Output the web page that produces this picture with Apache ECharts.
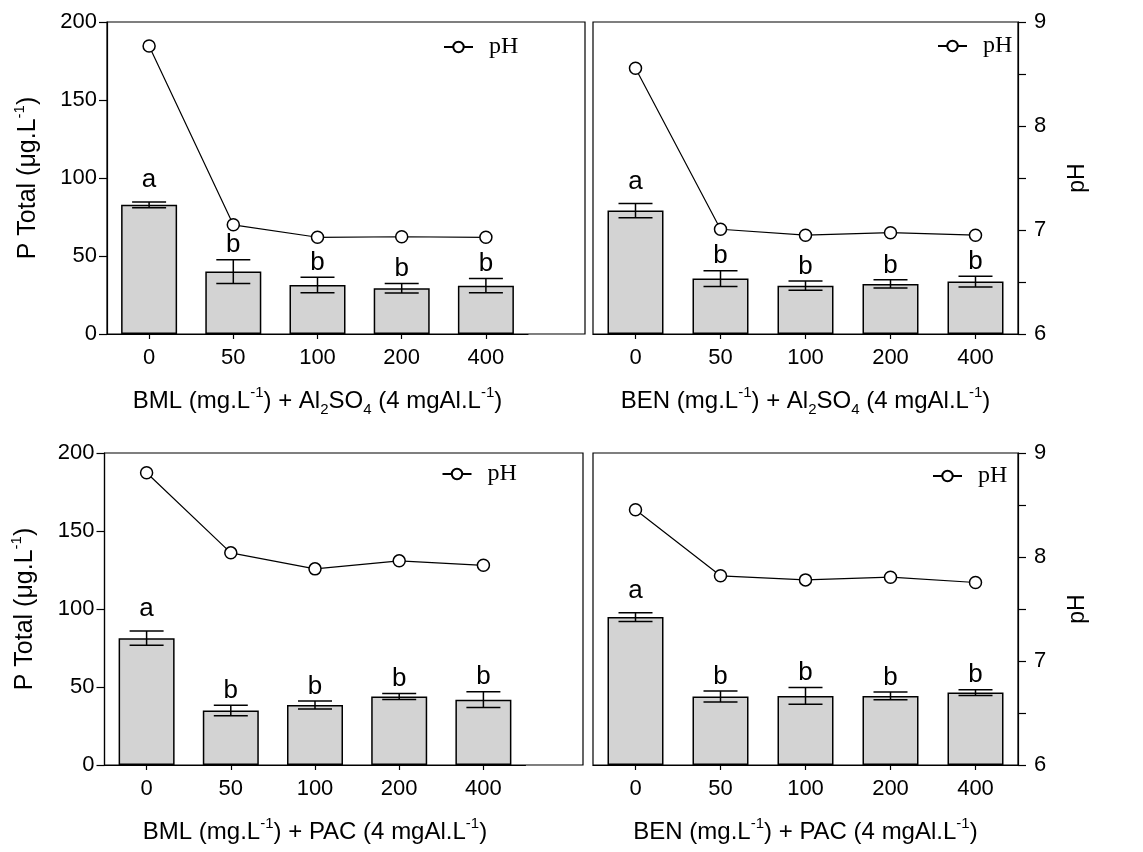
<!DOCTYPE html>
<html>
<head>
<meta charset="utf-8">
<script src="https://cdn.jsdelivr.net/npm/echarts@6/dist/echarts.min.js"></script>
<style>html,body{margin:0;padding:0;background:#fff}#c{width:1143px;height:852px}</style>
</head>
<body>
<div id="c"></div>
<script>
const categories = ['0', '50', '100', '200', '400'];
const pTicks = [0, 50, 100, 150, 200];
const phTicks = [6, 7, 8, 9];

const tlP = [82.8, 40.0, 31.4, 29.3, 31.0];
const tlErr = [1.8, 7.6, 5.0, 3.0, 4.6];
const tlPH = [8.77, 7.05, 6.93, 6.935, 6.93];
const tlLetters = ['a', 'b', 'b', 'b', 'b'];

const trP = [79.1, 35.5, 31.0, 32.1, 33.6];
const trErr = [4.6, 5.1, 2.9, 2.6, 3.4];
const trPH = [8.555, 7.007, 6.95, 6.974, 6.95];
const trLetters = ['a', 'b', 'b', 'b', 'b'];

const blP = [81.3, 34.9, 38.5, 43.9, 41.9];
const blErr = [4.6, 3.4, 2.6, 1.9, 5.1];
const blPH = [8.81, 8.04, 7.886, 7.963, 7.92];
const blLetters = ['a', 'b', 'b', 'b', 'b'];

const brP = [94.8, 43.9, 44.3, 44.3, 46.4];
const brErr = [2.8, 3.5, 5.3, 2.5, 1.8];
const brPH = [8.454, 7.819, 7.78, 7.806, 7.755];
const brLetters = ['a', 'b', 'b', 'b', 'b'];

const titles = [
  ['BML (mg.L', 'Al', 'SO', ' (4 mgAl.L'],
  ['BEN (mg.L', 'Al', 'SO', ' (4 mgAl.L'],
  ['BML (mg.L', 'PAC (4 mgAl.L'],
  ['BEN (mg.L', 'PAC (4 mgAl.L']
];

const SANS = 'Liberation Sans, Arial, sans-serif';
const SERIF = 'Liberation Serif, Times New Roman, serif';

const richX = {
  t: { fontSize: 24, fontFamily: SANS, color: '#000', lineHeight: 32 },
  sup: { fontSize: 15, fontFamily: SANS, color: '#000', verticalAlign: 'top', lineHeight: 20 },
  sub: { fontSize: 15, fontFamily: SANS, color: '#000', verticalAlign: 'bottom', lineHeight: 20 }
};
const richY = {
  t: { fontSize: 25, fontFamily: SANS, color: '#000', lineHeight: 32 },
  sup: { fontSize: 15, fontFamily: SANS, color: '#000', verticalAlign: 'top', lineHeight: 20 }
};

function alTitle(t) {
  return '{t|' + t[0] + '}{sup|-1}{t|) + ' + t[1] + '}{sub|2}{t|' + t[2] + '}{sub|4}{t|' + t[3] + '}{sup|-1}{t|)}';
}
function pacTitle(t) {
  return '{t|' + t[0] + '}{sup|-1}{t|) + ' + t[1] + '}{sup|-1}{t|)}';
}

const panels = [
  { box: { left: 107, top: 22, width: 478, height: 312 }, data: { left: 107, top: 22, width: 421, height: 312 },
    p: tlP, err: tlErr, ph: tlPH, letters: tlLetters, name: alTitle(titles[0]), leftAxis: true, legend: { left: 443, top: 35 } },
  { box: { left: 593, top: 22, width: 425, height: 312 }, data: { left: 593, top: 22, width: 425, height: 312 },
    p: trP, err: trErr, ph: trPH, letters: trLetters, name: alTitle(titles[1]), leftAxis: false, legend: { left: 937, top: 34 } },
  { box: { left: 104.5, top: 453, width: 478.5, height: 312 }, data: { left: 104.5, top: 453, width: 421, height: 312 },
    p: blP, err: blErr, ph: blPH, letters: blLetters, name: pacTitle(titles[2]), leftAxis: true, legend: { left: 441.5, top: 462 } },
  { box: { left: 593, top: 453, width: 425, height: 312 }, data: { left: 593, top: 453, width: 425, height: 312 },
    p: brP, err: brErr, ph: brPH, letters: brLetters, name: pacTitle(titles[3]), leftAxis: false, legend: { left: 932, top: 464 } }
];

const letterLift = { a: 22, b: 14.5 };

const grid = [], xAxis = [], yAxis = [], series = [], legend = [];

panels.forEach((pn, i) => {
  grid.push(Object.assign({ show: true, borderColor: '#000', borderWidth: 1.2, backgroundColor: 'transparent' }, pn.box));
  xAxis.push({ gridIndex: i, type: 'value', show: false, min: 0, max: 1 });
  yAxis.push({ gridIndex: i, type: 'value', show: false, min: 0, max: 1 });
});

panels.forEach((pn, i) => {
  const g = 4 + i;
  grid.push(Object.assign({ show: false }, pn.data));
  xAxis.push({
    gridIndex: g, type: 'category', data: categories,
    axisLine: { show: true, lineStyle: { color: '#000', width: 1.2 } },
    axisTick: { show: true, alignWithLabel: true, length: 5, lineStyle: { color: '#000', width: 1.2 } },
    axisLabel: { color: '#000', fontSize: 22, fontFamily: SANS, margin: 13 },
    splitLine: { show: false },
    name: pn.name, nameLocation: 'middle', nameGap: 51,
    nameTextStyle: { rich: richX }
  });
  const pAxisIndex = yAxis.length;
  yAxis.push({
    gridIndex: g, type: 'value', position: 'left', min: pTicks[0], max: pTicks[pTicks.length - 1], interval: 50,
    show: pn.leftAxis,
    axisLine: { show: true, lineStyle: { color: '#000', width: 1.2 } },
    axisTick: { show: true, length: 8, lineStyle: { color: '#000', width: 1.2 } },
    axisLabel: { color: '#000', fontSize: 22, fontFamily: SANS, margin: 10 },
    splitLine: { show: false },
    name: '{t|P Total (μg.L}{sup|-1}{t|)}', nameLocation: 'middle', nameGap: 63,
    nameTextStyle: { rich: richY }
  });
  const phAxisIndex = yAxis.length;
  yAxis.push({
    gridIndex: g, type: 'value', position: 'right', min: phTicks[0], max: phTicks[phTicks.length - 1], interval: 1,
    show: !pn.leftAxis,
    axisLine: { show: true, lineStyle: { color: '#000', width: 1.2 } },
    axisTick: { show: true, length: 8, lineStyle: { color: '#000', width: 1.2 } },
    minorTick: { show: true, splitNumber: 2, length: 8, lineStyle: { color: '#000', width: 1.2 } },
    axisLabel: { color: '#000', fontSize: 22, fontFamily: SANS, margin: 16 },
    splitLine: { show: false }, minorSplitLine: { show: false },
    name: 'pH', nameLocation: 'middle', nameGap: 48,
    nameTextStyle: { color: '#000', fontSize: 23, fontFamily: SANS }
  });

  series.push({
    type: 'bar', xAxisIndex: g, yAxisIndex: pAxisIndex, data: pn.p, barWidth: 56,
    itemStyle: { color: '#d3d3d3', borderColor: '#000', borderWidth: 1.5 },
    silent: true, z: 2
  });
  const letters = pn.letters;
  series.push({
    type: 'custom', xAxisIndex: g, yAxisIndex: pAxisIndex, z: 3, silent: true,
    data: pn.p.map((v, k) => [k, v, pn.err[k]]),
    renderItem: function (params, api) {
      const x = api.value(0), m = api.value(1), e = api.value(2);
      const top = api.coord([x, m + e]);
      const bot = api.coord([x, m - e]);
      const hw = 17;
      const st = { stroke: '#000', lineWidth: 1.5 };
      const L = letters[params.dataIndex];
      return {
        type: 'group',
        children: [
          { type: 'line', shape: { x1: top[0], y1: top[1], x2: bot[0], y2: bot[1] }, style: st },
          { type: 'line', shape: { x1: top[0] - hw, y1: top[1], x2: top[0] + hw, y2: top[1] }, style: st },
          { type: 'line', shape: { x1: bot[0] - hw, y1: bot[1], x2: bot[0] + hw, y2: bot[1] }, style: st },
          { type: 'text', x: top[0], y: top[1] - (letterLift[L] || 15),
            style: { text: L, fill: '#000', font: '26px ' + SANS, textAlign: 'center', textVerticalAlign: 'middle' } }
        ]
      };
    }
  });
  series.push({
    type: 'line', name: 'pH', xAxisIndex: g, yAxisIndex: phAxisIndex, data: pn.ph,
    symbol: 'circle', symbolSize: 12,
    lineStyle: { color: '#000', width: 1.2 },
    itemStyle: { color: '#fff', borderColor: '#000', borderWidth: 1.5 },
    z: 4, silent: true
  });
  legend.push({
    left: pn.legend.left, top: pn.legend.top, padding: 0,
    itemWidth: 29, itemHeight: 13,
    data: ['pH'], selectedMode: false,
    textStyle: { color: '#000', fontSize: 24, fontFamily: SERIF, padding: [0, 0, 0, 11] }
  });
});

const chart = echarts.init(document.getElementById('c'), null, { renderer: 'canvas' });
chart.setOption({ animation: false, backgroundColor: '#fff', grid, xAxis, yAxis, series, legend });
</script>
</body>
</html>
